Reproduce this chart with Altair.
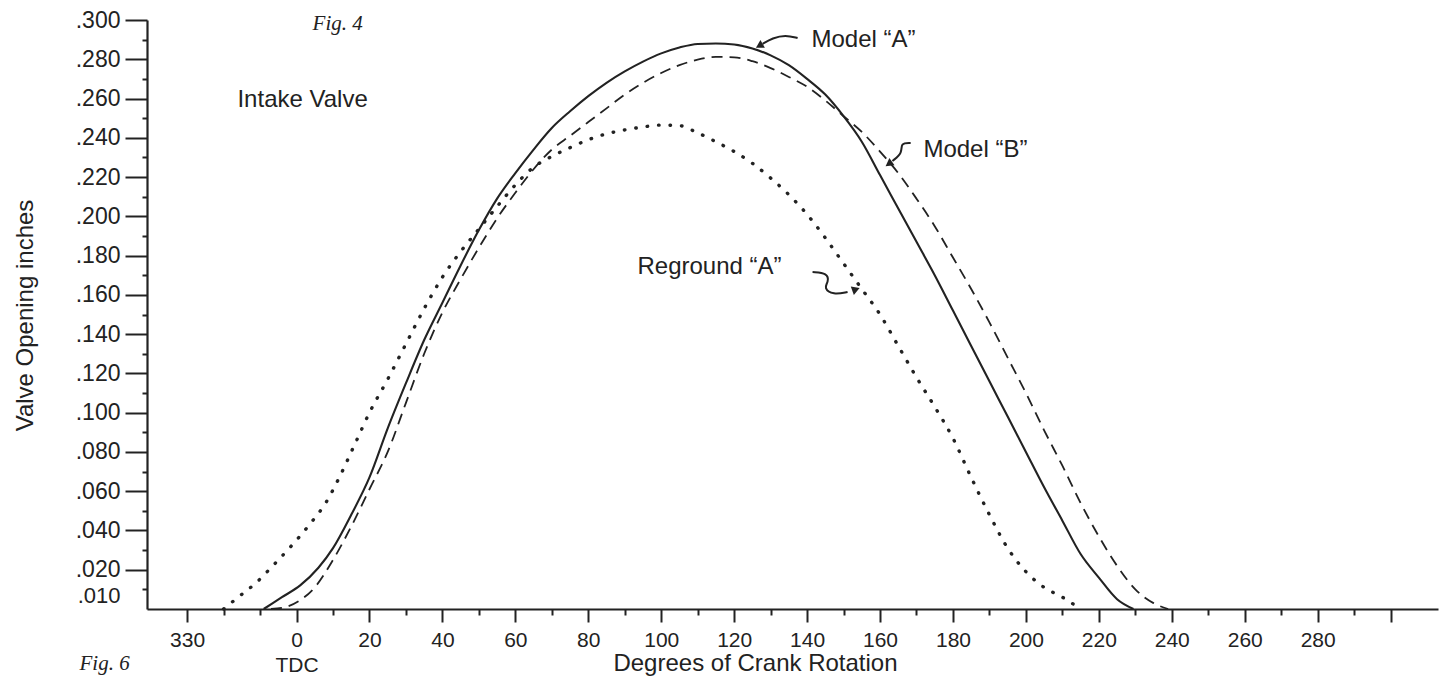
import altair as alt
import pandas as pd

# ---------------- data ----------------
# Model "A" (solid)
deg_a = [-9, -4, 1, 6, 10, 15, 20, 25, 30, 35, 40, 45, 50, 55, 60, 65, 70, 75, 80, 85,
         90, 95, 100, 105, 110, 115, 120, 125, 130, 135, 140, 145, 150, 155, 160, 165,
         170, 175, 180, 185, 190, 195, 200, 205, 210, 215, 220, 225, 229.5]
lift_a = [0.000, 0.006, 0.012, 0.021, 0.031, 0.048, 0.067, 0.092, 0.115, 0.137, 0.156,
          0.175, 0.193, 0.209, 0.222, 0.234, 0.245, 0.2535, 0.2612, 0.268, 0.2738, 0.2788,
          0.283, 0.286, 0.2878, 0.288, 0.2875, 0.2855, 0.282, 0.277, 0.270, 0.262, 0.251,
          0.238, 0.221, 0.204, 0.187, 0.170, 0.152, 0.134, 0.116, 0.098, 0.080, 0.062,
          0.045, 0.028, 0.016, 0.005, 0.000]

# Model "B" (dashed)
deg_b = [-7, -3, 1, 5, 10, 15, 20, 25, 30, 35, 40, 45, 50, 55, 60, 65, 70, 75, 80, 85,
         90, 95, 100, 105, 110, 115, 120, 125, 130, 135, 140, 145, 150, 155, 160, 165,
         170, 175, 180, 185, 190, 195, 200, 205, 210, 215, 220, 225, 230, 235, 239]
lift_b = [0.000, 0.001, 0.0045, 0.011, 0.025, 0.042, 0.061, 0.080, 0.105, 0.130, 0.151,
          0.168, 0.184, 0.199, 0.212, 0.224, 0.234, 0.241, 0.248, 0.255, 0.262, 0.268,
          0.273, 0.277, 0.2798, 0.2812, 0.281, 0.279, 0.2755, 0.271, 0.266, 0.259, 0.251,
          0.243, 0.233, 0.222, 0.209, 0.195, 0.179, 0.163, 0.146, 0.128, 0.110, 0.091,
          0.073, 0.054, 0.037, 0.022, 0.010, 0.003, 0.000]

# Reground "A" (dotted)
deg_r = [-20, -16, -11, -6, -1, 4, 8, 12, 16, 20, 25, 30, 35, 40, 45, 50, 55, 60, 65, 70,
         75, 80, 85, 90, 95, 100, 105, 110, 115, 120, 125, 130, 135, 140, 145, 150, 155,
         160, 165, 170, 175, 180, 185, 190, 195, 200, 205, 210, 215]
lift_r = [0.000, 0.006, 0.0135, 0.023, 0.033, 0.044, 0.054, 0.068, 0.084, 0.100, 0.117,
          0.135, 0.153, 0.169, 0.182, 0.1935, 0.205, 0.216, 0.225, 0.2305, 0.235, 0.239,
          0.242, 0.244, 0.2455, 0.2465, 0.2462, 0.2425, 0.238, 0.233, 0.227, 0.2195,
          0.211, 0.201, 0.189, 0.176, 0.163, 0.150, 0.134, 0.118, 0.103, 0.087, 0.067,
          0.048, 0.031, 0.019, 0.011, 0.006, 0.000]

# axis ticks
x_major = [-30, 0, 20, 40, 60, 80, 100, 120, 140, 160, 180, 200, 220, 240, 260, 280, 300]
x_minor = [-20, -10, 10, 30, 50, 70, 90, 110, 130, 150, 170, 190, 210, 230, 250, 270, 290]
y_major = [0.02, 0.04, 0.06, 0.08, 0.10, 0.12, 0.14, 0.16, 0.18, 0.20, 0.22, 0.24, 0.26,
           0.28, 0.30]
y_minor = [0.01, 0.03, 0.05, 0.07, 0.09, 0.11, 0.13, 0.15, 0.17, 0.19, 0.21, 0.23, 0.25,
           0.27, 0.29]

# annotations
sans_text = ["Intake Valve", "Model \u201cA\u201d", "Model \u201cB\u201d", "Reground \u201cA\u201d"]
sans_x = [-16.2, 141.2, 171.9, 93.5]
sans_y = [0.2593, 0.2898, 0.2338, 0.1742]

serif_text = ["Fig. 4", "Fig. 6"]
serif_x = [4.4, -59.5]
serif_y = [0.2950, -0.0311]

arrow_id = ["A", "A", "A", "A", "B", "B", "B", "B", "R", "R", "R", "R", "R", "R"]
arrow_x = [137.4, 134.1, 130.5, 127.8, 168.4, 165.6, 166.2, 163.4,
           141.5, 145.6, 145.9, 144.5, 147.2, 151.1]
arrow_y = [0.2908, 0.2924, 0.2908, 0.2878, 0.2374, 0.2374, 0.2323, 0.2282,
           0.1716, 0.1711, 0.1666, 0.1635, 0.1599, 0.1615]
head_x = [126.9, 162.4, 153.4]
head_y = [0.2868, 0.2267, 0.1628]
head_angle = [240, 235, 70]

# ---------------- build ----------------
INK = "#222222"
SANS = "Liberation Sans"

df_a = pd.DataFrame({"deg": deg_a, "lift": lift_a})
df_b = pd.DataFrame({"deg": deg_b, "lift": lift_b})
df_r = pd.DataFrame({"deg": deg_r, "lift": lift_r})
df_sans = pd.DataFrame({"text": sans_text, "deg": sans_x, "lift": sans_y})
df_serif = pd.DataFrame({"text": serif_text, "deg": serif_x, "lift": serif_y})
df_arrow = pd.DataFrame({"id": arrow_id, "deg": arrow_x, "lift": arrow_y,
                         "i": list(range(len(arrow_id)))})
df_head = pd.DataFrame({"deg": head_x, "lift": head_y, "ang": head_angle})

xs = alt.Scale(domain=[-41, 313], nice=False, zero=False)
ys = alt.Scale(domain=[0, 0.3], nice=False, zero=False)

x_major_axis = alt.Axis(
    orient="bottom", values=x_major, tickSize=13, tickWidth=2, tickColor=INK,
    domain=True, domainColor=INK, domainWidth=2.2, grid=False,
    labelExpr="datum.value == 300 ? '' : (datum.value == 0 ? ['0', 'TDC'] : "
              "(datum.value < 0 ? '' + (360 + datum.value) : '' + datum.value))",
    labelFont=SANS, labelFontSize=21, labelColor=INK, labelPadding=7,
    labelLineHeight=25, labelOverlap=False, labelFlush=False, labelBound=False,
    title="Degrees of Crank Rotation", titleFont=SANS, titleFontSize=24,
    titleFontWeight="normal", titleColor=INK, titleX=608, titleY=61,
    titleAlign="center", titleBaseline="alphabetic",
)
y_major_axis = alt.Axis(
    orient="left", values=y_major, tickSize=22, tickWidth=2, tickColor=INK,
    domain=True, domainColor=INK, domainWidth=2.2, grid=False,
    labelExpr="substring(format(datum.value, '.3f'), 1)",
    labelFont=SANS, labelFontSize=23, labelColor=INK, labelPadding=5,
    labelOverlap=False, labelFlush=False, labelBound=False,
    title="Valve Opening inches", titleFont=SANS, titleFontSize=24,
    titleFontWeight="normal", titleColor=INK, titleX=-115, titleY=295,
    titleAngle=270, titleAlign="center", titleBaseline="alphabetic",
)
x_minor_axis = alt.Axis(
    orient="bottom", values=x_minor, tickSize=6, tickWidth=2, tickColor=INK,
    domain=False, grid=False, labels=False, title=None,
)
y_minor_axis = alt.Axis(
    orient="left", values=y_minor, tickSize=5, tickWidth=2, tickColor=INK,
    domain=False, grid=False,
    labelExpr="datum.value < 0.015 ? '.010' : ''",
    labelFont=SANS, labelFontSize=22, labelColor=INK, labelPadding=22,
    labelOffset=6,
    labelOverlap=False, labelFlush=False, labelBound=False, title=None,
)

line_a = alt.Chart(df_a).mark_line(color=INK, strokeWidth=2.1, interpolate="monotone").encode(
    x=alt.X("deg:Q", scale=xs, axis=x_major_axis),
    y=alt.Y("lift:Q", scale=ys, axis=y_major_axis),
)
minor_layer = alt.Chart(df_a).mark_point(opacity=0).encode(
    x=alt.X("deg:Q", scale=xs, axis=x_minor_axis),
    y=alt.Y("lift:Q", scale=ys, axis=y_minor_axis),
)
line_b = alt.Chart(df_b).mark_line(color=INK, strokeWidth=1.8, strokeDash=[11, 7],
                                   interpolate="monotone").encode(
    x=alt.X("deg:Q", scale=xs, axis=None),
    y=alt.Y("lift:Q", scale=ys, axis=None),
)
line_r = alt.Chart(df_r).mark_line(color=INK, strokeWidth=3.4, strokeDash=[0.5, 11],
                                   strokeCap="round", interpolate="monotone").encode(
    x=alt.X("deg:Q", scale=xs, axis=None),
    y=alt.Y("lift:Q", scale=ys, axis=None),
)
txt_sans = alt.Chart(df_sans).mark_text(
    font=SANS, fontSize=24, color=INK, align="left", baseline="middle"
).encode(
    x=alt.X("deg:Q", scale=xs, axis=None),
    y=alt.Y("lift:Q", scale=ys, axis=None),
    text="text:N",
)
txt_serif = alt.Chart(df_serif).mark_text(
    font="Liberation Serif", fontStyle="italic", fontSize=21, color=INK,
    align="left", baseline="alphabetic"
).encode(
    x=alt.X("deg:Q", scale=xs, axis=None),
    y=alt.Y("lift:Q", scale=ys, axis=None),
    text="text:N",
)
arrows = alt.Chart(df_arrow).mark_line(color=INK, strokeWidth=2, interpolate="basis").encode(
    x=alt.X("deg:Q", scale=xs, axis=None),
    y=alt.Y("lift:Q", scale=ys, axis=None),
    detail="id:N",
    order="i:Q",
)
heads = alt.Chart(df_head).mark_point(
    shape="triangle-up", filled=True, color=INK, opacity=1, size=80
).encode(
    x=alt.X("deg:Q", scale=xs, axis=None),
    y=alt.Y("lift:Q", scale=ys, axis=None),
    angle=alt.Angle("ang:Q", scale=None),
)

chart = alt.layer(
    line_a, minor_layer, line_b, line_r, txt_sans, txt_serif, arrows, heads
).resolve_axis(
    x="independent", y="independent"
).properties(
    width=1291, height=589,
    autosize=alt.AutoSizeParams(type="none"),
    padding={"left": 139, "top": 12, "right": 2, "bottom": 67},
    background="white",
).configure_view(stroke="transparent")

chart.save("out.html", embed_options={"renderer": "svg", "actions": False})
